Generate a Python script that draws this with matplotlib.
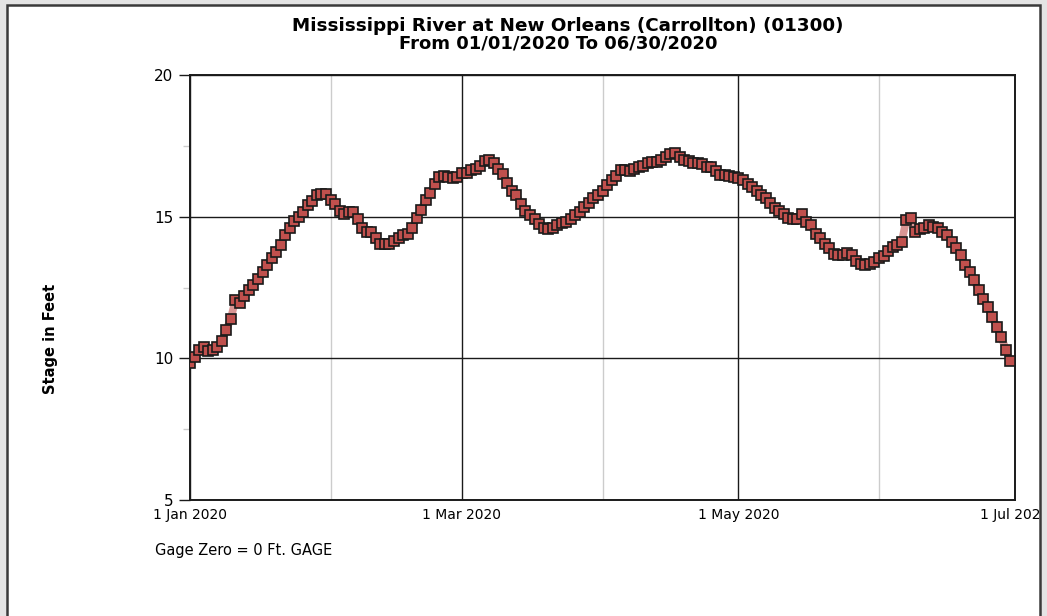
import matplotlib
matplotlib.use("Agg")
import matplotlib.pyplot as plt
from matplotlib.patches import Rectangle
import datetime as dt

# daily stage readings, 01/01/2020 - 06/30/2020
start = dt.date(2020, 1, 1)
stage = [
    9.85, 10.05, 10.3, 10.4, 10.25, 10.3, 10.4, 10.6, 11.0, 11.4,
    12.05, 11.95, 12.2, 12.4, 12.6, 12.8, 13.05, 13.3, 13.55, 13.75,
    14.0, 14.35, 14.6, 14.85, 15.0, 15.15, 15.4, 15.55, 15.75, 15.8,
    15.8, 15.6, 15.45, 15.2, 15.1, 15.15, 15.15, 14.9, 14.6, 14.45,
    14.45, 14.25, 14.05, 14.05, 14.05, 14.15, 14.25, 14.35, 14.4, 14.6,
    14.95, 15.25, 15.6, 15.85, 16.15, 16.4, 16.45, 16.4, 16.35, 16.4,
    16.55, 16.55, 16.65, 16.7, 16.8, 16.95, 17.0, 16.9, 16.7, 16.5,
    16.2, 15.9, 15.75, 15.45, 15.2, 15.05, 14.9, 14.75, 14.6, 14.55,
    14.6, 14.7, 14.78, 14.8, 14.9, 15.05, 15.15, 15.35, 15.5, 15.65,
    15.75, 15.9, 16.1, 16.3, 16.45, 16.65, 16.65, 16.6, 16.7, 16.75,
    16.8, 16.88, 16.94, 16.94, 17.0, 17.1, 17.22, 17.25, 17.12, 17.0,
    16.95, 16.9, 16.9, 16.85, 16.75, 16.75, 16.6, 16.47, 16.47, 16.45,
    16.4, 16.35, 16.3, 16.15, 16.05, 15.9, 15.78, 15.65, 15.48, 15.32,
    15.2, 15.08, 14.97, 14.9, 14.9, 15.1, 14.8, 14.7, 14.38, 14.25,
    14.05, 13.9, 13.7, 13.65, 13.65, 13.72, 13.65, 13.45, 13.32, 13.3,
    13.32, 13.4, 13.55, 13.6, 13.8, 13.93, 14.0, 14.1, 14.88, 14.95,
    14.45, 14.55, 14.6, 14.7, 14.65, 14.6, 14.47, 14.35, 14.12, 13.9,
    13.65, 13.3, 13.05, 12.75, 12.4, 12.08, 11.8, 11.45, 11.1, 10.75,
    10.3, 9.9,
]
dates = [start + dt.timedelta(days=i) for i in range(len(stage))]

major_dates = [dt.date(2020, 1, 1), dt.date(2020, 3, 1), dt.date(2020, 5, 1), dt.date(2020, 7, 1)]
major_labels = ["1 Jan 2020", "1 Mar 2020", "1 May 2020", "1 Jul 2020"]
minor_dates = [dt.date(2020, 2, 1), dt.date(2020, 4, 1), dt.date(2020, 6, 1)]
y_ticks = [5, 10, 15, 20]

title1 = "Mississippi River at New Orleans (Carrollton) (01300)"
title2 = "From 01/01/2020 To 06/30/2020"

plt.rcParams["font.family"] = ["DejaVu Sans"]

W, H = 1047, 616
fig = plt.figure(figsize=(W / 100, H / 100), dpi=100, facecolor="#e4e4e4")

# white panel with dark frame
panel = Rectangle((7 / W, -0.02), (1040 - 7) / W, 1.02 - 5 / H, transform=fig.transFigure,
                  facecolor="white", edgecolor="#3a3a3a", linewidth=1.8, zorder=-1)
fig.patches.append(panel)

ax = fig.add_axes([190 / W, 1 - 500 / H, (1015 - 190) / W, (500 - 75) / H])
ax.set_zorder(2)
ax.set_facecolor("white")

ax.plot(dates, stage, color="#c0504d", alpha=0.6, linewidth=5.5, zorder=3)
ax.plot(dates, stage, linestyle="none", marker="s", markersize=7,
        markerfacecolor="#c0504d", markeredgecolor="#1a1a1a", markeredgewidth=1.2, zorder=4)

ax.set_xlim(major_dates[0], major_dates[-1])
ax.set_ylim(5, 20)

ax.set_xticks(major_dates)
ax.set_xticklabels(major_labels, fontsize=10)
ax.set_xticks(minor_dates, minor=True)
ax.set_yticks(y_ticks)
ax.set_yticklabels([str(v) for v in y_ticks], fontsize=11)
ax.set_yticks([7.5, 12.5, 17.5], minor=True)

ax.grid(which="major", color="#1a1a1a", linewidth=1.0)
ax.grid(which="minor", axis="x", color="#cccccc", linewidth=1.0)
ax.set_axisbelow(True)

ax.tick_params(axis="x", which="both", length=0, pad=6)
ax.tick_params(axis="y", which="major", length=8, width=1.0, color="#1a1a1a", pad=4)
ax.tick_params(axis="y", which="minor", length=5, width=1.0, color="#cccccc")
for s in ax.spines.values():
    s.set_color("#1a1a1a")
    s.set_linewidth(1.4)

for lab in ax.get_xticklabels():
    lab.set_clip_path(panel)

fig.text(568 / W, 1 - 26 / H, title1, ha="center", va="center", fontsize=13.2, fontweight="bold")
fig.text(558 / W, 1 - 44 / H, title2, ha="center", va="center", fontsize=13, fontweight="bold")
fig.text(50 / W, 1 - 339 / H, "Stage in Feet", ha="center", va="center", rotation=90,
         fontsize=10.5, fontweight="bold")
fig.text(155 / W, 1 - 551 / H, "Gage Zero = 0 Ft. GAGE", ha="left", va="center", fontsize=10.5)

fig.savefig("out.png", dpi=100, facecolor=fig.get_facecolor())
